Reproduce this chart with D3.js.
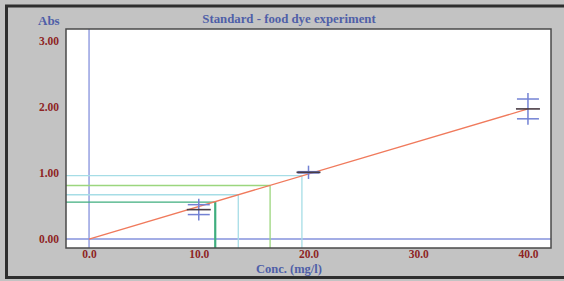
<!DOCTYPE html>
<html>
<head>
<meta charset="utf-8">
<script src="https://cdn.jsdelivr.net/npm/d3@7"></script>
<style>
  body { margin: 0; background: #c3c3c3; }
  svg { display: block; }
  .tick text { font-family: "Liberation Serif", "DejaVu Serif", serif; font-weight: bold; font-size: 11.5px; fill: #8e2424; }
  .lbl { font-family: "Liberation Serif", "DejaVu Serif", serif; font-weight: bold; fill: #4f5fa8; }
</style>
</head>
<body>
<svg width="564" height="281"></svg>
<script>
// standaarden (mg/l) en gemeten absorptie per herhaling
var stdConc = [10, 20, 40];
var stdReps = [[0.52, 0.37], [1.02, 1.00], [2.12, 1.82]];
var stdMean = [0.445, 1.01, 1.97];
// ijklijn door de oorsprong
var fitConc = [0, 40];
var fitAbs = [0, 1.97];
var sampleAbs = [0.56, 0.67, 0.81, 0.96];
var sampleConc = [11.5, 13.6, 16.5, 19.4];
var sampleColor = ["#3fae7e", "#a6dde6", "#9bd67e", "#a6dde6"];
var xTicks = [0, 10, 20, 30, 40];
var yTicks = [0, 1, 2, 3];

var svg = d3.select("svg");
var plot = { left: 66, top: 29, right: 551, bottom: 248 };

// buitenste donkere rand
svg.append("rect")
    .attr("x", 6.5).attr("y", 6)
    .attr("width", 570).attr("height", 271.5)
    .attr("fill", "#c3c3c3")
    .attr("stroke", "#2e2e2e").attr("stroke-width", 3);

var x = d3.scaleLinear().domain([-2.1, 42.1]).range([plot.left, plot.right]);
var y = d3.scaleLinear().domain([-0.136, 3.18]).range([plot.bottom, plot.top]);

svg.append("rect")
    .attr("x", plot.left).attr("y", plot.top)
    .attr("width", plot.right - plot.left).attr("height", plot.bottom - plot.top)
    .attr("fill", "#fff");

// assen door nul
svg.append("line")
    .attr("x1", x(0)).attr("x2", x(0))
    .attr("y1", plot.top).attr("y2", plot.bottom)
    .attr("stroke", "#8592dc").attr("stroke-width", 1.3);
svg.append("line")
    .attr("x1", plot.left).attr("x2", plot.right)
    .attr("y1", y(0)).attr("y2", y(0))
    .attr("stroke", "#8592dc").attr("stroke-width", 1.3);

// afleeslijnen van de monsters
var s = svg.append("g").selectAll("g").data(sampleAbs).enter().append("g");
s.append("line")
    .attr("x1", plot.left).attr("x2", function (d, i) { return x(sampleConc[i]); })
    .attr("y1", function (d) { return y(d); }).attr("y2", function (d) { return y(d); })
    .attr("stroke", function (d, i) { return sampleColor[i]; })
    .attr("stroke-width", 1.3);
s.append("line")
    .attr("x1", function (d, i) { return x(sampleConc[i]); })
    .attr("x2", function (d, i) { return x(sampleConc[i]); })
    .attr("y1", function (d) { return y(d); }).attr("y2", plot.bottom)
    .attr("stroke", function (d, i) { return sampleColor[i]; })
    .attr("stroke-width", function (d, i) { return i == 0 ? 2.2 : 1.3; });

// ijklijn
svg.append("line")
    .attr("x1", x(fitConc[0])).attr("y1", y(fitAbs[0]))
    .attr("x2", x(fitConc[1])).attr("y2", y(fitAbs[1]))
    .attr("stroke", "#f07a5c").attr("stroke-width", 1.3);

// standaarden: streepjes per herhaling, verticale lijn en donker streepje voor het gemiddelde
stdConc.forEach(function (c, i) {
    var reps = stdReps[i];
    svg.append("line")
        .attr("x1", x(c)).attr("x2", x(c))
        .attr("y1", y(d3.max(reps)) - 6).attr("y2", y(d3.min(reps)) + 6)
        .attr("stroke", "#7382d4").attr("stroke-width", 1.5);
    reps.forEach(function (a) {
        svg.append("line")
            .attr("x1", x(c) - 11).attr("x2", x(c) + 11)
            .attr("y1", y(a)).attr("y2", y(a))
            .attr("stroke", "#7382d4").attr("stroke-width", 1.5);
    });
    svg.append("line")
        .attr("x1", x(c) - 12).attr("x2", x(c) + 12)
        .attr("y1", y(stdMean[i])).attr("y2", y(stdMean[i]))
        .attr("stroke", "#4a3c44").attr("stroke-width", 1.6);
});

svg.append("rect")
    .attr("x", plot.left).attr("y", plot.top)
    .attr("width", plot.right - plot.left).attr("height", plot.bottom - plot.top)
    .attr("fill", "none").attr("stroke", "#4a4a4a").attr("stroke-width", 1.5);

svg.append("g")
    .attr("transform", "translate(0," + plot.bottom + ")")
    .call(d3.axisBottom(x).tickValues(xTicks).tickSize(0).tickPadding(2).tickFormat(d3.format(".1f")))
    .call(function (g) { g.select(".domain").remove(); });

svg.append("g")
    .attr("transform", "translate(" + plot.left + ",0)")
    .call(d3.axisLeft(y).tickValues(yTicks).tickSize(0).tickPadding(7).tickFormat(d3.format(".2f")))
    .call(function (g) { g.select(".domain").remove(); });

svg.append("text").attr("class", "lbl")
    .attr("x", 289).attr("y", 23).attr("text-anchor", "middle")
    .attr("font-size", "12.8px")
    .text("Standard - food dye experiment");
svg.append("text").attr("class", "lbl")
    .attr("x", 38).attr("y", 25)
    .attr("font-size", "13px")
    .text("Abs");
svg.append("text").attr("class", "lbl")
    .attr("x", 289).attr("y", 272.5).attr("text-anchor", "middle")
    .attr("font-size", "12.5px")
    .text("Conc. (mg/l)");
</script>
</body>
</html>
